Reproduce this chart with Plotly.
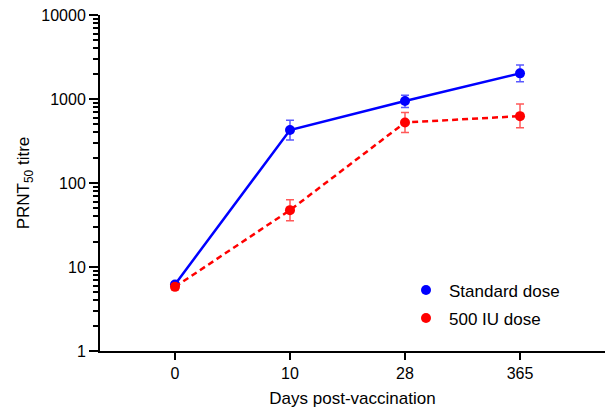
import plotly.graph_objects as go

days = ["0", "10", "28", "365"]
std_mean = [6.2, 427, 946, 2020]
std_upper = [6.6, 560, 1110, 2540]
std_lower = [5.8, 325, 790, 1600]
low_mean = [5.8, 47.5, 525, 625]
low_upper = [6.2, 63, 690, 870]
low_lower = [5.4, 35.5, 400, 455]
y_ticks = [1, 10, 100, 1000, 10000]

FONT = "Liberation Sans, Arial, sans-serif"

def errs(mean, up, lo):
    return [u - m for u, m in zip(up, mean)], [m - l for m, l in zip(mean, lo)]

fig = go.Figure()
for name, mean, up, lo, color, dash, ecol, grp in [
    ("Standard dose", std_mean, std_upper, std_lower, "#0000ff", "solid", "rgba(60,60,255,0.85)", "a"),
    ("500 IU dose", low_mean, low_upper, low_lower, "#ff0000", "6px,4px", "rgba(255,60,60,0.85)", "b"),
]:
    ep, em = errs(mean, up, lo)
    fig.add_trace(go.Scatter(
        x=days, y=mean, mode="lines+markers", name=name, showlegend=False,
        legendgroup=grp,
        line=dict(color=color, width=2.5, dash=dash),
        marker=dict(color=color, size=10),
        error_y=dict(type="data", array=ep, arrayminus=em, color=ecol, thickness=1.5, width=4),
    ))
    fig.add_trace(go.Scatter(
        x=[None], y=[None], mode="markers", name=name, legendgroup=grp,
        marker=dict(color=color, size=10),
    ))

fig.update_layout(
    width=605, height=411,
    margin=dict(l=100, r=0, t=15, b=60),
    plot_bgcolor="white", paper_bgcolor="white",
    font=dict(family=FONT, size=16, color="black"),
    legend=dict(x=0.6, y=0.234, xanchor="left", yanchor="top",
                font=dict(size=17), itemwidth=36, tracegroupgap=3,
                bgcolor="rgba(0,0,0,0)"),
    xaxis=dict(
        type="category", categoryorder="array", categoryarray=days,
        range=[-0.652, 3.739],
        showline=True, linecolor="black", linewidth=2,
        ticks="outside", ticklen=7, tickwidth=2, tickcolor="black",
        showgrid=False, zeroline=False,
        title=dict(text="Days post-vaccination", font=dict(size=17), standoff=11),
        tickfont=dict(size=16),
    ),
    yaxis=dict(
        type="log", range=[0, 4],
        tickvals=y_ticks, ticktext=[str(v) for v in y_ticks],
        showline=True, linecolor="black", linewidth=2,
        ticks="outside", ticklen=9, tickwidth=2, tickcolor="black",
        minor=dict(ticks="outside", ticklen=5, tickwidth=1.5, tickcolor="black", dtick="D1", showgrid=False),
        showgrid=False, zeroline=False,
        title=dict(text="PRNT<sub>50</sub> titre", font=dict(size=17), standoff=7),
        tickfont=dict(size=16),
    ),
)

fig.write_html("out.html")
